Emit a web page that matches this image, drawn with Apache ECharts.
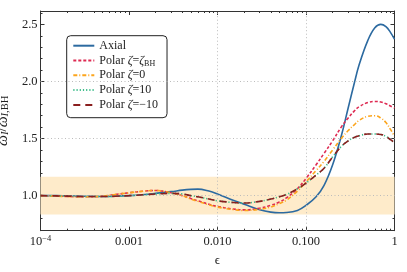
<!DOCTYPE html>
<html>
<head>
<meta charset="utf-8">
<script src="https://cdn.jsdelivr.net/npm/echarts@6/dist/echarts.min.js"></script>
<style>html,body{margin:0;padding:0;background:#fff}#c{width:407px;height:272px}</style>
</head>
<body>
<div id="c"></div>
<script>
// ---- data ----
const eps = [1e-4, 1.5e-4, 2e-4, 3e-4, 5e-4, 7e-4, 1e-3, 1.5e-3, 2e-3, 3e-3, 4e-3, 5e-3, 6e-3, 8e-3,
  0.01, 0.015, 0.02, 0.03, 0.04, 0.05, 0.06, 0.08, 0.1, 0.13, 0.16, 0.2, 0.25, 0.3, 0.35, 0.4,
  0.5, 0.6, 0.7, 0.8, 0.9, 1.0];
const axialVals = [1.0, 1.0, 0.998, 0.995, 0.993, 0.995, 1.0, 1.01, 1.02, 1.035, 1.048, 1.055, 1.057, 1.04,
  1.015, 0.96, 0.925, 0.877, 0.856, 0.85, 0.852, 0.87, 0.915, 0.99, 1.09, 1.27, 1.52, 1.77, 1.98, 2.15,
  2.36, 2.47, 2.5, 2.48, 2.43, 2.37];
const polarBHVals = [1.0, 0.997, 0.993, 0.99, 0.995, 1.01, 1.025, 1.04, 1.045, 1.025, 1.0, 0.975, 0.955, 0.925,
  0.905, 0.883, 0.875, 0.89, 0.915, 0.945, 0.98, 1.06, 1.15, 1.27, 1.37, 1.48, 1.6, 1.68, 1.74, 1.78,
  1.815, 1.825, 1.82, 1.805, 1.785, 1.767];
const polar0Vals = [1.0, 0.996, 0.992, 0.99, 0.995, 1.01, 1.025, 1.04, 1.045, 1.025, 1.0, 0.97, 0.95, 0.92,
  0.9, 0.878, 0.87, 0.88, 0.9, 0.93, 0.96, 1.04, 1.12, 1.22, 1.3, 1.4, 1.5, 1.57, 1.62, 1.66,
  1.695, 1.7, 1.68, 1.64, 1.58, 1.52];
const polarP10Vals = [1.0, 0.998, 0.996, 0.993, 0.992, 0.995, 1.0, 1.008, 1.015, 1.02, 1.015, 1.0, 0.99, 0.97,
  0.955, 0.94, 0.935, 0.95, 0.97, 0.99, 1.01, 1.06, 1.11, 1.18, 1.24, 1.34, 1.43, 1.48, 1.51, 1.525,
  1.54, 1.54, 1.535, 1.52, 1.49, 1.465];
const polarM10Vals = [1.0, 0.998, 0.996, 0.993, 0.992, 0.995, 1.0, 1.008, 1.015, 1.02, 1.015, 1.0, 0.99, 0.97,
  0.955, 0.94, 0.935, 0.95, 0.97, 0.99, 1.01, 1.06, 1.11, 1.18, 1.24, 1.34, 1.43, 1.48, 1.51, 1.525,
  1.54, 1.54, 1.535, 1.52, 1.49, 1.465];
const seriesNames = ['Axial', 'Polar ζ=ζBH', 'Polar ζ=0', 'Polar ζ=10', 'Polar ζ=−10'];
const legendLabels = ['Axial', 'Polar {i|ζ}={i|ζ}{sub|BH}', 'Polar {i|ζ}=0', 'Polar {i|ζ}=10', 'Polar {i|ζ}=−10'];
const xTickLabels = ['10{sup|−4}', '0.001', '0.010', '0.100', '1'];
const xGridValues = [0.001, 0.01, 0.1];
const yMajorTicks = [1.0, 1.5, 2.0, 2.5];
const yMinorTicks = [0.7, 0.8, 0.9, 1.1, 1.2, 1.3, 1.4, 1.6, 1.7, 1.8, 1.9, 2.1, 2.2, 2.3, 2.4, 2.6];
const yGridValues = [1.0, 1.5, 2.0];
const bandRange = [0.835, 1.165];
const yRange = [0.693, 2.617];

// ---- chart ----
const FONT = '"Liberation Serif", "DejaVu Serif", serif';
const frame = '#333';
const chart = echarts.init(document.getElementById('c'), null, {renderer: 'canvas'});
const pairs = vals => eps.map((e, i) => [e, vals[i]]);

const baseX = {
  type: 'log', logBase: 10, min: 1e-4, max: 1,
  axisLine: {show: true, lineStyle: {color: frame, width: 1}},
  axisTick: {show: true, inside: true, length: 4, lineStyle: {color: frame, width: 1}},
  minorTick: {show: true, splitNumber: 9, length: 2, lineStyle: {color: frame, width: 1}},
  splitLine: {show: false}, minorSplitLine: {show: false}
};
const baseY = (pos, ticks, len, show) => ({
  type: 'value', position: pos, min: yRange[0], max: yRange[1],
  axisLine: {show: show, lineStyle: {color: frame, width: 1}},
  axisTick: {show: true, inside: true, length: len, customValues: ticks, lineStyle: {color: frame, width: 1}},
  axisLabel: {show: false, customValues: ticks},
  splitLine: {show: false}
});

const yMain = baseY('left', yMajorTicks, 4, true);
yMain.axisLabel = {
  show: true, customValues: yMajorTicks, margin: 3, color: '#222',
  fontFamily: FONT, fontSize: 12.5, formatter: v => v.toFixed(1)
};
yMain.name = '{i|ω}{isub|I}/{i|ω}{isub|I}{sub|,BH}';
yMain.nameLocation = 'middle';
yMain.nameRotate = 90;
yMain.nameGap = 17;
yMain.nameTextStyle = {
  fontFamily: FONT, fontSize: 15, color: '#222', lineHeight: 17,
  rich: {
    i: {fontFamily: FONT, fontStyle: 'italic', fontSize: 15.5, lineHeight: 17, color: '#222'},
    isub: {fontFamily: FONT, fontStyle: 'italic', fontSize: 10.5, lineHeight: 8, verticalAlign: 'bottom', color: '#222'},
    sub: {fontFamily: FONT, fontSize: 10.5, lineHeight: 8, verticalAlign: 'bottom', color: '#222'}
  }
};

const lineSeries = [
  {color: '#2c6aa0', type: 'solid'},
  {color: '#de2a52', type: [3, 2]},
  {color: '#fca51c', type: [4, 2, 1, 2]},
  {color: '#3dbd8a', type: [1.2, 2]},
  {color: '#8a1f1f', type: [7, 5]}
];
const valsList = [axialVals, polarBHVals, polar0Vals, polarP10Vals, polarM10Vals];

const series = [
  {
    type: 'line', xAxisIndex: 0, yAxisIndex: 0, data: [], silent: true, z: 1,
    markArea: {silent: true, itemStyle: {color: '#feebca'},
      data: [[{yAxis: bandRange[0]}, {yAxis: bandRange[1]}]]}
  },
  {
    type: 'line', xAxisIndex: 0, yAxisIndex: 0, data: [], silent: true, z: 2,
    markLine: {silent: true, symbol: 'none', label: {show: false}, animation: false,
      lineStyle: {color: '#bcbcbc', type: [1, 2.5], width: 1, opacity: 1},
      emphasis: {disabled: true},
      data: xGridValues.map(v => ({xAxis: v})).concat(yGridValues.map(v => ({yAxis: v})))}
  }
].concat(valsList.map((vals, i) => ({
  name: seriesNames[i], type: 'line', xAxisIndex: 0, yAxisIndex: 0,
  data: pairs(vals), showSymbol: false, symbol: 'none', smooth: 0.4, z: 3 + i,
  lineStyle: {color: lineSeries[i].color, width: 1.6, type: lineSeries[i].type},
  itemStyle: {color: lineSeries[i].color}
})));

chart.setOption({
  animation: false,
  grid: {left: 40.5, right: 12.5, top: 11, bottom: 41.3, outerBoundsMode: 'none'},
  legend: {
    data: seriesNames, orient: 'vertical', left: 66.7, top: 35.7,
    itemWidth: 21, itemHeight: 10, itemGap: 0.8,
    padding: [3, 9, 5.8, 5.6],
    backgroundColor: '#fff', borderColor: '#222', borderWidth: 1, borderRadius: 4,
    itemStyle: {opacity: 0},
    formatter: name => legendLabels[seriesNames.indexOf(name)],
    textStyle: {
      fontFamily: FONT, fontSize: 12, color: '#222', lineHeight: 14,
      rich: {
        i: {fontFamily: FONT, fontStyle: 'italic', fontSize: 12, lineHeight: 14, color: '#222'},
        sub: {fontFamily: FONT, fontSize: 8, lineHeight: 6, verticalAlign: 'bottom', color: '#222'}
      }
    }
  },
  xAxis: [
    Object.assign({}, baseX, {
      position: 'bottom',
      axisLabel: {
        show: true, margin: 4, color: '#222', fontFamily: FONT, fontSize: 12.5, lineHeight: 14,
        formatter: v => xTickLabels[Math.round(Math.log10(v)) + 4],
        rich: {sup: {fontFamily: FONT, fontSize: 8.5, lineHeight: 6, verticalAlign: 'top', color: '#222'}}
      },
      name: '\u03f5', nameLocation: 'middle', nameGap: 22,
      nameTextStyle: {fontFamily: FONT, fontSize: 13, color: '#222'}
    }),
    Object.assign({}, baseX, {position: 'top', axisLabel: {show: false}})
  ],
  yAxis: [
    yMain,
    baseY('left', yMinorTicks, 2, false),
    baseY('right', yMajorTicks, 4, true),
    baseY('right', yMinorTicks, 2, false)
  ],
  series: series
});
</script>
</body>
</html>
